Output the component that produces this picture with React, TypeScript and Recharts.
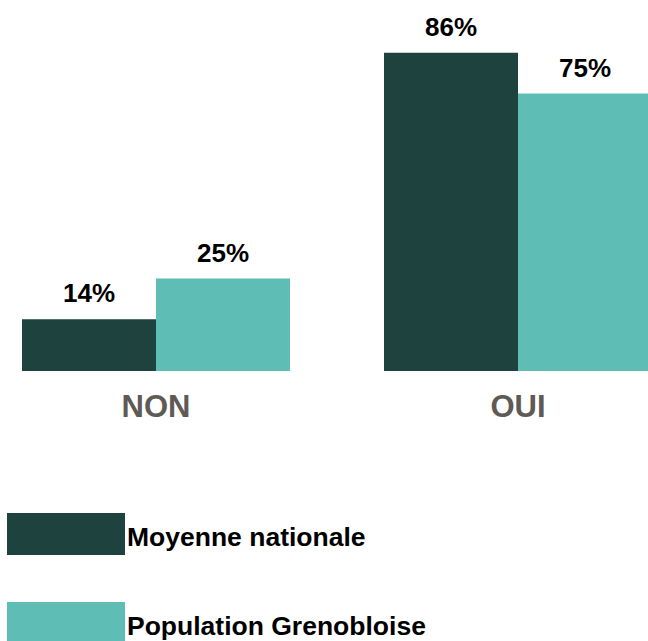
import { Bar, BarChart, LabelList, XAxis, YAxis } from 'recharts';

const categories = ['NON', 'OUI'];
const seriesNames = ['Moyenne nationale', 'Population Grenobloise'];
const moyenneNationale = [14, 86];
const populationGrenobloise = [25, 75];
const colors = ['#1e423e', '#5ebdb4'];

const data = categories.map((name, i) => ({
  name,
  nationale: moyenneNationale[i],
  grenoble: populationGrenobloise[i],
}));

const seriesKeys = ['nationale', 'grenoble'];
const font = '"Liberation Sans", Arial, sans-serif';

function CategoryTick(props: any) {
  const { x, y, payload } = props;
  return (
    <text
      x={x}
      y={y}
      dy={38}
      textAnchor="middle"
      fill="#5e5a55"
      fontFamily={font}
      fontWeight={700}
      fontSize={31}
    >
      {payload.value}
    </text>
  );
}

export default function App() {
  return (
    <div
      style={{
        position: 'absolute',
        left: 0,
        top: 0,
        width: 648,
        height: 641,
        overflow: 'hidden',
        background: '#fff',
        fontFamily: font,
      }}
    >
      <div style={{ position: 'absolute', left: -25, top: 0 }}>
        <BarChart
          width={724}
          height={450}
          data={data}
          margin={{ top: 1, right: 0, bottom: 0, left: 0 }}
          barGap={0}
          barCategoryGap={47}
        >
          <XAxis
            dataKey="name"
            axisLine={false}
            tickLine={false}
            height={79}
            tick={<CategoryTick />}
            interval={0}
          />
          <YAxis hide domain={[0, 100]} />
          {seriesKeys.map((key, i) => (
            <Bar key={key} dataKey={key} name={seriesNames[i]} fill={colors[i]} barSize={134} isAnimationActive={false}>
              <LabelList
                dataKey={key}
                position="top"
                offset={17}
                formatter={(v: any) => `${v}%`}
                fill="#000"
                fontFamily={font}
                fontWeight={700}
                fontSize={26}
              />
            </Bar>
          ))}
        </BarChart>
      </div>
      {seriesNames.map((name, i) => (
        <div
          key={name}
          style={{
            position: 'absolute',
            left: 7,
            top: 513 + i * 89,
            display: 'flex',
            alignItems: 'center',
            height: 42,
          }}
        >
          <div style={{ width: 118, height: 42, background: colors[i] }} />
          <span
            style={{
              marginLeft: 2,
              fontWeight: 700,
              fontSize: 26.5,
              color: '#000',
              lineHeight: '42px',
              position: 'relative',
              top: 3,
            }}
          >
            {name}
          </span>
        </div>
      ))}
    </div>
  );
}
